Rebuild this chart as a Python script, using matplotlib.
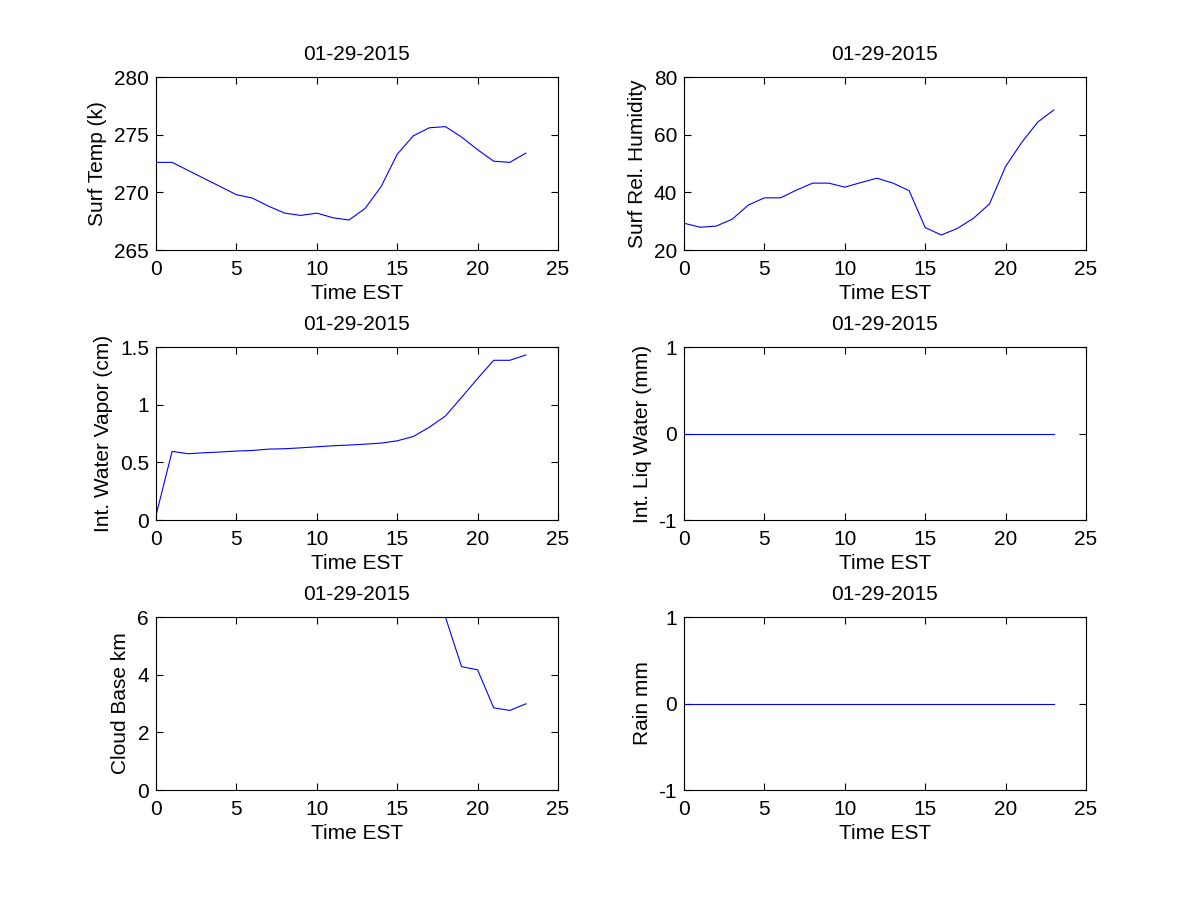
import numpy as np
import matplotlib
matplotlib.use('Agg')
import matplotlib.pyplot as plt

plt.rcParams['font.family'] = ['Liberation Sans', 'DejaVu Sans']
plt.rcParams['font.size'] = 15

# hourly data, 01-29-2015
hours = np.arange(0, 24)
surf_temp = [272.6, 272.6, 271.9, 271.2, 270.5, 269.8, 269.5, 268.8, 268.2, 268.0,
             268.2, 267.8, 267.6, 268.6, 270.5, 273.3, 274.9, 275.6, 275.7, 274.8,
             273.7, 272.7, 272.6, 273.4]
rel_hum = [29.3, 27.9, 28.3, 30.7, 35.6, 38.1, 38.1, 40.8, 43.2, 43.2,
           41.8, 43.4, 44.9, 43.2, 40.6, 27.8, 25.2, 27.5, 31.0, 36.0,
           49.0, 57.3, 64.4, 68.6]
water_vapor = [0.04, 0.595, 0.575, 0.583, 0.59, 0.598, 0.603, 0.615, 0.618, 0.626,
               0.635, 0.644, 0.65, 0.658, 0.667, 0.687, 0.724, 0.805, 0.902, 1.063,
               1.227, 1.385, 1.385, 1.431]
liq_water = [0.0] * 24
cloud_base = [np.nan] * 18 + [6.0, 4.28, 4.17, 2.85, 2.76, 2.99]
rain = [0.0] * 24

date_str = '01-29-2015'
panels = [
    (surf_temp, 'Surf Temp (k)', (265, 280), [265, 270, 275, 280], None),
    (rel_hum, 'Surf Rel. Humidity', (20, 80), [20, 40, 60, 80], None),
    (water_vapor, 'Int. Water Vapor (cm)', (0, 1.5), [0, 0.5, 1, 1.5], ['0', '0.5', '1', '1.5']),
    (liq_water, 'Int. Liq Water (mm)', (-1, 1), [-1, 0, 1], ['-1', '0', '1']),
    (cloud_base, 'Cloud Base km', (0, 6), [0, 2, 4, 6], None),
    (rain, 'Rain mm', (-1, 1), [-1, 0, 1], ['-1', '0', '1']),
]

fig = plt.figure(figsize=(12, 9), dpi=100)
lefts = [0.13, 0.57]
bottoms = [0.7222, 0.4222, 0.1222]
w, h = 0.335, 0.1922

for k, (vals, ylab, ylim, yt, ytl) in enumerate(panels):
    r, c = divmod(k, 2)
    ax = fig.add_axes([lefts[c], bottoms[r], w, h])
    ax.plot(hours, vals, color='#0000ff', linewidth=0.8)
    ax.set_xlim(0, 25)
    ax.set_ylim(*ylim)
    ax.set_xticks([0, 5, 10, 15, 20, 25])
    ax.set_yticks(yt)
    if ytl:
        ax.set_yticklabels(ytl)
    ax.tick_params(direction='in', top=True, right=True, length=5, width=0.8, pad=5)
    ax.tick_params(axis='x', pad=7)
    for s in ax.spines.values():
        s.set_linewidth(0.8)
    ax.set_title(date_str, pad=12, fontsize=15)
    ax.set_xlabel('Time EST', labelpad=4)
    ax.set_ylabel(ylab, labelpad=5)

fig.savefig('out.png', dpi=100)
